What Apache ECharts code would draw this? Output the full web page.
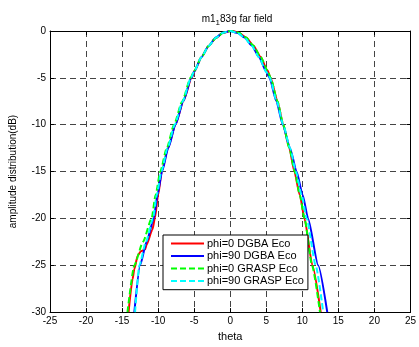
<!DOCTYPE html>
<html>
<head>
<meta charset="utf-8">
<script src="https://cdn.jsdelivr.net/npm/echarts@6/dist/echarts.min.js"></script>
<style>html,body{margin:0;padding:0;background:#fff;}#c{width:419px;height:347px;}</style>
</head>
<body>
<div id="c"></div>
<script>
const seriesNames = ['phi=0 DGBA Eco', 'phi=90 DGBA Eco', 'phi=0 GRASP Eco', 'phi=90 GRASP Eco'];
const xTicks = [-25, -20, -15, -10, -5, 0, 5, 10, 15, 20, 25];
const yTicks = [-30, -25, -20, -15, -10, -5, 0];

const thetaRed = [-14.1, -13.55, -13.3, -12.85, -12.4, -11.8, -11.6, -10.8, -10.45, -10.0, -9.5, -8.65, -7.6, -6.5, -5.35, -4.9, -4, -3, -2, -1, 0, 0.4, 1.2, 2.2, 3.2, 4.2, 5.15, 5.6, 6.55, 7.35, 8.2, 8.9, 9.65, 10.3, 11.4, 12.55];
const dbRed    = [-30, -26.5, -25.4, -24.0, -23.5, -23.3, -22.8, -21.2, -20, -17.5, -15, -12.5, -10, -7.5, -5, -4.2, -2.8, -1.6, -0.75, -0.2, 0, 0, -0.2, -0.7, -1.55, -2.75, -4.2, -5, -7.5, -10, -12.5, -15, -17.5, -20, -25, -30];

const thetaBlue = [-13.3, -12.5, -11.6, -10.6, -10.1, -9.45, -8.6, -7.6, -6.5, -5.4, -5, -4, -3, -2, -1, 0, 1, 2, 3, 4, 5, 5.45, 6.4, 7.3, 8.3, 9.2, 10.05, 10.8, 12.2, 13.46];
const dbBlue    = [-30, -25, -22.5, -20, -17.5, -15, -12.5, -10, -7.5, -5, -4.35, -2.8, -1.6, -0.7, -0.18, 0, -0.2, -0.7, -1.55, -2.8, -4.35, -5, -7.5, -10, -12.5, -15, -17.5, -20, -25, -30];

const thetaGreen = [-14.25, -13.3, -12.1, -10.9, -10.35, -9.7, -8.8, -7.8, -6.65, -5.5, -5, -4, -3, -2, -1, 0, 0.4, 1.2, 2.2, 3.2, 4.2, 5.15, 5.6, 6.55, 7.35, 8.2, 8.95, 9.65, 10.3, 11.35, 12.45];
const dbGreen    = [-30, -25, -22.5, -20, -17.5, -15, -12.5, -10, -7.5, -5, -4.25, -2.8, -1.6, -0.75, -0.2, 0, 0, -0.2, -0.7, -1.55, -2.75, -4.2, -5, -7.5, -10, -12.5, -15, -17.5, -20, -25, -30];

const thetaCyan = [-13.2, -12.6, -11.7, -10.7, -10.2, -9.55, -8.7, -7.7, -6.6, -5.45, -5, -4, -3, -2, -1, 0, 1, 2, 3, 4, 5, 5.5, 6.45, 7.35, 8.3, 9.1, 9.9, 10.6, 11.85, 12.9];
const dbCyan    = [-30, -25, -22.5, -20, -17.5, -15, -12.5, -10, -7.5, -5, -4.3, -2.8, -1.6, -0.72, -0.18, 0, -0.2, -0.72, -1.6, -2.8, -4.35, -5, -7.5, -10, -12.5, -15, -17.5, -20, -25, -30];

function pairs(t, d) { return t.map((v, i) => [v, d[i]]); }

const font = 'Liberation Sans, Arial, Helvetica, sans-serif';
const gridLine = { show: true, lineStyle: { color: '#444', width: 1, type: [6, 4] } };

const chart = echarts.init(document.getElementById('c'), null, { renderer: 'canvas' });
const mkX = (pos, show) => ({
  type: 'value', position: pos, min: xTicks[0], max: xTicks[xTicks.length - 1], interval: 5,
  axisLine: { show: true, onZero: false, lineStyle: { color: '#000', width: 1 } },
  axisTick: { show: true, inside: true, length: 4, lineStyle: { color: '#000' } },
  axisLabel: { show: show, color: '#000', fontSize: 10, fontFamily: font, margin: 4 },
  splitLine: show ? gridLine : { show: false },
  name: show ? 'theta' : '', nameLocation: 'middle', nameGap: 18,
  nameTextStyle: { color: '#000', fontSize: 11, fontFamily: font }
});
const mkY = (pos, show) => ({
  type: 'value', position: pos, min: yTicks[0], max: yTicks[yTicks.length - 1], interval: 5,
  axisLine: { show: true, onZero: false, lineStyle: { color: '#000', width: 1 } },
  axisTick: { show: true, inside: true, length: 4, lineStyle: { color: '#000' } },
  axisLabel: { show: show, color: '#000', fontSize: 10, fontFamily: font, margin: 4 },
  splitLine: show ? gridLine : { show: false },
  name: show ? 'amplitude distribution(dB)' : '', nameLocation: 'middle', nameGap: 32,
  nameTextStyle: { color: '#000', fontSize: 10, fontFamily: font }
});

const colors = ['#ff0000', '#0000ff', '#00ff00', '#00ffff'];
const datas = [pairs(thetaRed, dbRed), pairs(thetaBlue, dbBlue), pairs(thetaGreen, dbGreen), pairs(thetaCyan, dbCyan)];
const types = ['solid', 'solid', [6, 3], [6, 3]];

chart.setOption({
  animation: false,
  backgroundColor: '#fff',
  title: {
    text: '{a|m1}{s|1}{a|83g far field}',
    left: 232, top: 6, textAlign: 'center',
    textStyle: {
      fontWeight: 'normal',
      rich: {
        a: { fontSize: 10, fontFamily: font, color: '#000', fontWeight: 'normal' },
        s: { fontSize: 8, fontFamily: font, color: '#000', fontWeight: 'normal', padding: [8, 0, 0, 0] }
      }
    }
  },
  grid: { left: 50, top: 31, width: 364, height: 286 },
  xAxis: [mkX('bottom', true), mkX('top', false)],
  yAxis: [mkY('left', true), mkY('right', false)],
  legend: {
    orient: 'vertical', left: 163, top: 235,
    padding: [3, 4, 3, 7], itemGap: 1.3, itemWidth: 33, itemHeight: 14,
    backgroundColor: '#fff', borderColor: '#000', borderWidth: 1, borderRadius: 0,
    itemStyle: { opacity: 0 },
    textStyle: { color: '#000', fontSize: 11, fontFamily: font, padding: [0, 0, 0, -2] },
    data: seriesNames
  },
  series: seriesNames.map((n, i) => ({
    name: n, type: 'line', data: datas[i], symbol: 'none', smooth: 0.2, smoothMonotone: 'x',
    clip: true, color: colors[i],
    lineStyle: { color: colors[i], width: 2, type: types[i] }
  }))
});
</script>
</body>
</html>
